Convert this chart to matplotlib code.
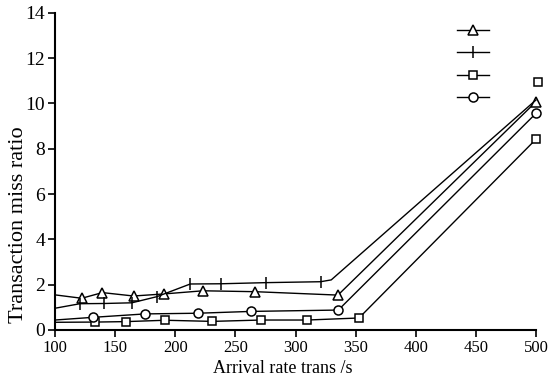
import matplotlib
matplotlib.use("Agg")
import matplotlib.pyplot as plt
from matplotlib.lines import Line2D

plt.rcParams['font.family'] = ['Liberation Serif', 'DejaVu Serif']

# Series data
tri_x = [100, 122.2, 139.4, 165.3, 190.3, 223.1, 266.7, 335.3, 500]
tri_y = [1.55, 1.40, 1.65, 1.50, 1.59, 1.73, 1.69, 1.54, 10.07]

plus_x = [100, 120.8, 141.1, 163.9, 184.7, 212.5, 238.1, 275.8, 320.8, 329.7, 500]
plus_y = [0.96, 1.16, 1.17, 1.20, 1.47, 2.03, 2.04, 2.09, 2.13, 2.21, 10.15]

sq_x = [100, 133.3, 158.9, 191.7, 230.6, 271.7, 309.7, 352.8, 500]
sq_y = [0.34, 0.35, 0.37, 0.43, 0.38, 0.44, 0.44, 0.53, 8.42]

circ_x = [100, 131.9, 175.0, 218.9, 262.8, 335.6, 500]
circ_y = [0.44, 0.56, 0.71, 0.74, 0.82, 0.88, 9.56]

extra_sq_x = [502]
extra_sq_y = [10.93]

xticks = [100, 150, 200, 250, 300, 350, 400, 450, 500]
yticks = [0, 2, 4, 6, 8, 10, 12, 14]

fig = plt.figure(figsize=(5.54, 3.79), dpi=100)
ax = fig.add_axes([55/554, 49/379, 481/554, 317.3/379])

lw = 1.0
mew = 1.1
ax.plot(tri_x, tri_y, color='black', lw=lw, marker='^', ms=7.5, mfc='white', mec='black',
        mew=mew, markevery=list(range(1, len(tri_x))), clip_on=False)
ax.plot(plus_x, plus_y, color='black', lw=lw, marker='|', ms=8, mec='black',
        mew=mew, markevery=list(range(1, len(plus_x) - 2)), clip_on=False)
ax.plot(sq_x, sq_y, color='black', lw=lw, marker='s', ms=5.5, mfc='white', mec='black',
        mew=mew, markevery=list(range(1, len(sq_x))), clip_on=False)
ax.plot(circ_x, circ_y, color='black', lw=lw, marker='o', ms=6.5, mfc='white', mec='black',
        mew=mew, markevery=list(range(1, len(circ_x))), clip_on=False)
ax.plot(extra_sq_x, extra_sq_y, ls='none', marker='s', ms=5.5, mfc='white', mec='black',
        mew=mew, clip_on=False)

ax.set_xlim(100, 500)
ax.set_ylim(0, 14)
ax.set_xticks(xticks)
ax.set_yticks(yticks)
ax.tick_params(direction='out', length=5, width=1.2, pad=2, colors='black')
ax.tick_params(axis='x', labelsize=12)
ax.tick_params(axis='y', labelsize=14)
for s in ['top', 'right']:
    ax.spines[s].set_visible(False)
for s in ['left', 'bottom']:
    ax.spines[s].set_linewidth(1.5)

ax.set_xlabel('Arrival rate trans /s', fontsize=13)
ax.set_ylabel('Transaction miss ratio', fontsize=16)
ax.xaxis.set_label_coords(0.473, -0.093)
ax.yaxis.set_label_coords(-0.056, 0.331)

handles = [
    Line2D([], [], color='black', lw=lw, marker='^', ms=7.5, mfc='white', mec='black', mew=mew),
    Line2D([], [], color='black', lw=lw, marker='|', ms=8, mec='black', mew=mew),
    Line2D([], [], color='black', lw=lw, marker='s', ms=5.5, mfc='white', mec='black', mew=mew),
    Line2D([], [], color='black', lw=lw, marker='o', ms=6.5, mfc='white', mec='black', mew=mew),
]
leg = ax.legend(handles, ['', '', '', ''], frameon=False, loc='upper left',
                bbox_to_anchor=(457/554, 1 - 25/379), bbox_transform=fig.transFigure,
                handlelength=2.1, handletextpad=0.0, labelspacing=0.55, borderpad=0,
                fontsize=11, borderaxespad=0)

fig.savefig('out.png', dpi=100)
